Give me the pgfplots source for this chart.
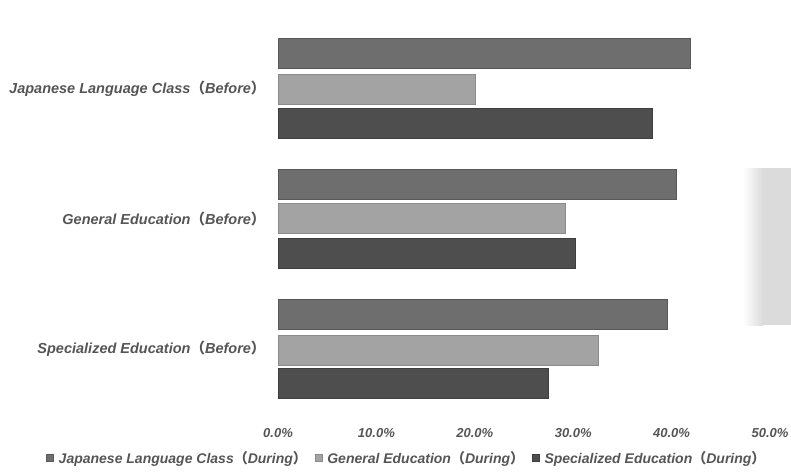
\documentclass[border=0pt]{standalone}
\usepackage{fontspec}
\setmainfont{Liberation Sans}
\newfontfamily\cjk{Noto Sans CJK SC}
\usepackage{pgfplots}
\pgfplotsset{compat=1.18}
\definecolor{txt}{HTML}{555555}
\definecolor{cA}{HTML}{6E6E6E}
\definecolor{cB}{HTML}{A3A3A3}
\definecolor{cC}{HTML}{4E4E4E}
\newcommand{\lp}{{\cjk （}}
\newcommand{\rp}{{\cjk ）}}
\begin{document}
\begin{tikzpicture}
\path[use as bounding box] (0pt,0pt) rectangle (791pt,-471pt);
\fill[gray!28] (762pt,-168pt) rectangle (791pt,-325pt);
\shade[left color=white, right color=gray!28, shading=axis] (743pt,-168pt) rectangle (763pt,-325pt);
\begin{axis}[
  at={(278pt,-410pt)}, anchor=south west,
  scale only axis, width=492pt, height=385pt,
  xmin=0, xmax=50, ymin=25, ymax=410, y dir=reverse,
  xbar, bar width=30pt, bar shift=0pt,
  axis line style={draw=none}, major tick length=0pt,
  xtick={0,10,20,30,40,50},
  xticklabel={\pgfmathprintnumber[fixed,fixed zerofill,precision=1]{\tick}\%},
  /pgf/number format/assume math mode=true,
  xticklabel style={font=\fontsize{13}{15}\selectfont\bfseries\itshape, text=txt, yshift=-15pt},
  ytick={89,218.5,349},
  yticklabels={Japanese Language Class\lp Before\rp, General Education\lp Before\rp, Specialized Education\lp Before\rp},
  yticklabel style={font=\fontsize{14.5}{17}\selectfont\bfseries\itshape, text=txt, xshift=-9pt},
  legend columns=3,
  legend style={draw=none, fill=none, at={(0.262,-0.1247)}, anchor=center,
    font=\fontsize{14}{16}\selectfont\bfseries\itshape, text=txt,
    /tikz/every even column/.append style={column sep=6pt}},
  legend image code/.code={\fill[#1] (0pt,-3.5pt) rectangle (7pt,3.5pt); \path (10pt,0pt);},
]
\addplot[fill=cA, draw=cA!80!black] coordinates {(41.9,53.5) (40.5,184) (39.6,314)};
\addplot[fill=cB, draw=cB!85!black] coordinates {(20.0,89) (29.2,218.5) (32.5,350)};
\addplot[fill=cC, draw=cC!80!black] coordinates {(38.0,123.5) (30.2,253) (27.5,383.5)};
\legend{Japanese Language Class\lp During\rp, General Education\lp During\rp, Specialized Education\lp During\rp}
\end{axis}
\end{tikzpicture}
\end{document}
